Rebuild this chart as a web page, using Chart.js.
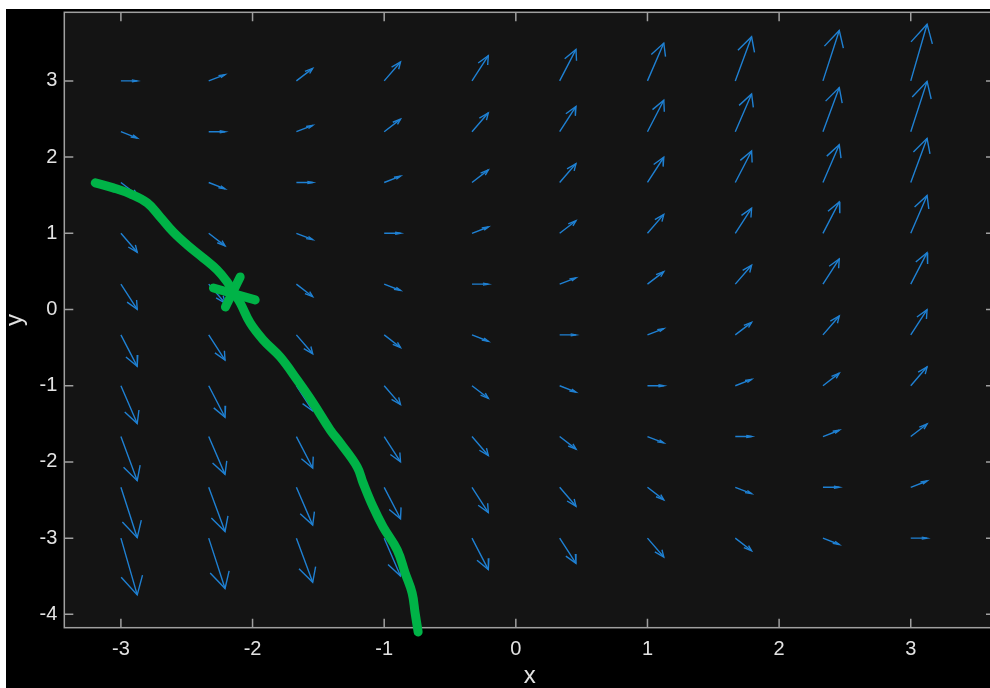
<!DOCTYPE html>
<html>
<head>
<meta charset="utf-8">
<script src="https://cdn.jsdelivr.net/npm/chart.js@4"></script>
<style>
  html, body { margin: 0; padding: 0; background: #fff; overflow: hidden; }
  #wrap { position: absolute; left: 6px; top: 9px; width: 994px; height: 679px; background: #000; }
</style>
</head>
<body>
<div id="wrap"><canvas id="field"></canvas></div>
<script>
// axis ticks
const xTicks = [-3, -2, -1, 0, 1, 2, 3];
const yTicks = [-4, -3, -2, -1, 0, 1, 2, 3];

// quiver grid (arrow tails)
const gridX = [-3, -2.333, -1.667, -1, -0.333, 0.333, 1, 1.667, 2.333, 3];
const gridY = [3, 2.333, 1.667, 1, 0.333, -0.333, -1, -1.667, -2.333, -3];

// slope of each arrow (dy per unit dx), one row per gridY value
const slopeRows = [
    [0, 0.67, 1.33, 2, 2.67, 3.33, 4, 4.67, 5.33, 6],
    [-0.67, 0, 0.67, 1.33, 2, 2.67, 3.33, 4, 4.67, 5.33],
    [-1.33, -0.67, 0, 0.67, 1.33, 2, 2.67, 3.33, 4, 4.67],
    [-2, -1.33, -0.67, 0, 0.67, 1.33, 2, 2.67, 3.33, 4],
    [-2.67, -2, -1.33, -0.67, 0, 0.67, 1.33, 2, 2.67, 3.33],
    [-3.33, -2.67, -2, -1.33, -0.67, 0, 0.67, 1.33, 2, 2.67],
    [-4, -3.33, -2.67, -2, -1.33, -0.67, 0, 0.67, 1.33, 2],
    [-4.67, -4, -3.33, -2.67, -2, -1.33, -0.67, 0, 0.67, 1.33],
    [-5.33, -4.67, -4, -3.33, -2.67, -2, -1.33, -0.67, 0, 0.67],
    [-6, -5.33, -4.67, -4, -3.33, -2.67, -2, -1.33, -0.67, 0]
];
const arrowScale = 0.124;

// hand drawn green curve
const curveX = [-3.195, -3.058, -2.929, -2.800, -2.702, -2.603, -2.497, -2.375, -2.269, -2.193,
    -2.147, -2.094, -2.018, -1.919, -1.790, -1.661, -1.540, -1.410, -1.334, -1.205,
    -1.160, -1.084, -1.008, -0.901, -0.841, -0.788, -0.765, -0.742];
const curveY = [1.662, 1.596, 1.517, 1.399, 1.215, 1.018, 0.848, 0.677, 0.520, 0.362,
    0.231, 0.087, -0.176, -0.399, -0.622, -0.924, -1.226, -1.580, -1.751, -2.066,
    -2.276, -2.591, -2.853, -3.155, -3.457, -3.719, -3.982, -4.231];

// the cross on the curve
const crossX = [-2.297, -1.980, null, -2.206, -2.094];
const crossY = [0.283, 0.126, null, 0.034, 0.428];

const GAP = { x: null, y: null };
const shafts = [];
const heads = [];
gridY.forEach((y, r) => {
    gridX.forEach((x, c) => {
        const u = arrowScale;
        const v = slopeRows[r][c] * arrowScale;
        const a = 0.33, b = 0.33;
        const tip = { x: x + u, y: y + v };
        shafts.push({ x: x, y: y }, tip, GAP);
        heads.push(
            { x: x + u - a * (u + b * v), y: y + v - a * (v - b * u) },
            tip,
            { x: x + u - a * (u - b * v), y: y + v - a * (v + b * u) },
            GAP
        );
    });
});

const curve = curveX.map((x, i) => ({ x: x, y: curveY[i] }));
const cross = crossX.map((x, i) => (x === null ? GAP : { x: x, y: crossY[i] }));

const axisColor = '#a0a0a0';
const textColor = '#e2e2e2';
const fontFamily = "'Liberation Sans', Arial, Helvetica, sans-serif";

const boxPlugin = {
    id: 'box',
    beforeDraw(chart) {
        const a = chart.chartArea;
        const ctx = chart.ctx;
        ctx.save();
        ctx.fillStyle = '#141414';
        ctx.fillRect(a.left, a.top, a.right - a.left, a.bottom - a.top);
        ctx.restore();
    },
    beforeDatasetsDraw(chart) {
        const a = chart.chartArea;
        const ctx = chart.ctx;
        const xs = chart.scales.x, ys = chart.scales.y;
        const len = 9;
        ctx.save();
        ctx.strokeStyle = axisColor;
        ctx.lineWidth = 1.5;
        ctx.strokeRect(a.left, a.top, a.right - a.left, a.bottom - a.top);
        ctx.beginPath();
        xTicks.forEach(t => {
            const px = xs.getPixelForValue(t);
            ctx.moveTo(px, a.bottom); ctx.lineTo(px, a.bottom - len);
            ctx.moveTo(px, a.top); ctx.lineTo(px, a.top + len);
        });
        yTicks.forEach(t => {
            const py = ys.getPixelForValue(t);
            ctx.moveTo(a.left, py); ctx.lineTo(a.left + len, py);
            ctx.moveTo(a.right, py); ctx.lineTo(a.right - len, py);
        });
        ctx.stroke();
        ctx.restore();
    }
};

function noPad(scale) {
    scale.paddingLeft = 0;
    scale.paddingRight = 0;
    scale.paddingTop = 0;
    scale.paddingBottom = 0;
}

new Chart(document.getElementById('field'), {
    type: 'scatter',
    data: {
        datasets: [
            {
                data: curve,
                showLine: true,
                borderColor: '#00b347',
                borderWidth: 9,
                borderCapStyle: 'round',
                borderJoinStyle: 'round',
                tension: 0.4,
                pointRadius: 0,
                clip: false
            },
            {
                data: cross,
                showLine: true,
                borderColor: '#00b347',
                borderWidth: 9,
                borderCapStyle: 'round',
                pointRadius: 0,
                clip: false
            },
            {
                data: heads,
                showLine: true,
                borderColor: '#1f80d2',
                borderWidth: 1.4,
                pointRadius: 0
            },
            {
                data: shafts,
                showLine: true,
                borderColor: '#1f80d2',
                borderWidth: 1.4,
                pointRadius: 0
            }
        ]
    },
    options: {
        responsive: true,
        maintainAspectRatio: false,
        animation: false,
        events: [],
        layout: { padding: { top: 3.3, right: 5, left: 0, bottom: 0 } },
        plugins: {
            legend: { display: false },
            tooltip: { enabled: false }
        },
        scales: {
            x: {
                type: 'linear',
                min: -3.43,
                max: 3.64,
                grid: { display: false, drawTicks: false },
                border: { display: false },
                afterBuildTicks: scale => { scale.ticks = xTicks.map(v => ({ value: v })); },
                afterFit: scale => { scale.height = 60.3; noPad(scale); },
                ticks: {
                    color: textColor,
                    padding: 10,
                    maxRotation: 0,
                    autoSkip: false,
                    font: { family: fontFamily, size: 20 }
                },
                title: {
                    display: true,
                    text: 'x',
                    color: textColor,
                    padding: { top: 0, bottom: 0 },
                    font: { family: fontFamily, size: 24, lineHeight: 1 }
                }
            },
            y: {
                type: 'linear',
                min: -4.175,
                max: 3.9,
                grid: { display: false, drawTicks: false },
                border: { display: false },
                afterBuildTicks: scale => { scale.ticks = yTicks.map(v => ({ value: v })); },
                afterFit: scale => { scale.width = 58.3; noPad(scale); },
                ticks: {
                    color: textColor,
                    padding: 7,
                    autoSkip: false,
                    font: { family: fontFamily, size: 20 }
                },
                title: {
                    display: true,
                    text: 'y',
                    color: textColor,
                    padding: { top: 0, bottom: 0 },
                    font: { family: fontFamily, size: 24, lineHeight: 0.75 }
                }
            }
        }
    },
    plugins: [boxPlugin]
});
</script>
</body>
</html>
